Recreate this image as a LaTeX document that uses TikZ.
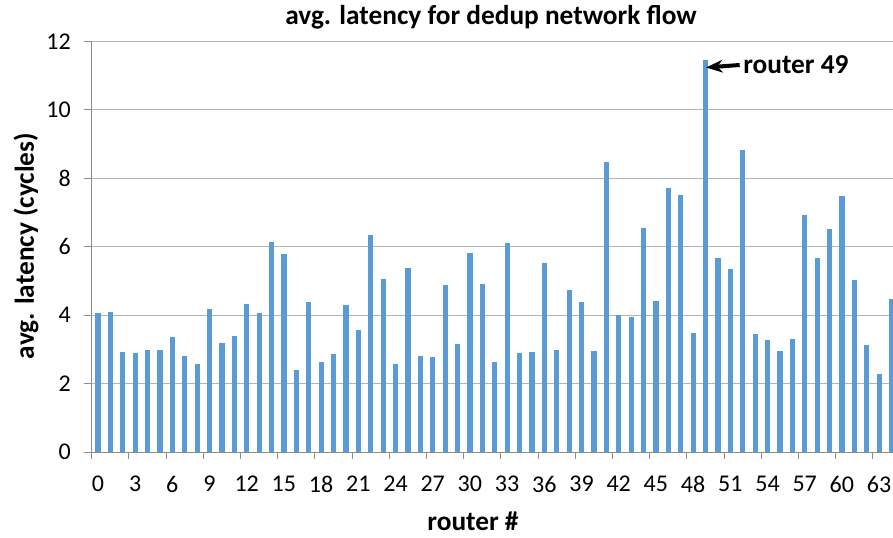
\documentclass[tikz,border=0pt]{standalone}
\usepackage{fontspec}
\setmainfont{Carlito}
\usetikzlibrary{arrows.meta}
\definecolor{barblue}{HTML}{5B9BD5}
\definecolor{gridgray}{HTML}{B4B4B4}
\definecolor{axisgray}{HTML}{8C8C8C}
\begin{document}
\begin{tikzpicture}[>=Stealth, x=0.75pt, y=0.75pt]
        \tikzset{bar/.style={fill=barblue, draw=none},
                 gridline/.style={draw=gridgray, line width=0.8pt},
                 axisline/.style={draw=axisgray, line width=0.8pt},
                 ticklbl/.style={inner sep=0pt, font=\fontsize{18}{20}\selectfont},
                 boldlbl/.style={inner sep=0pt, font=\fontsize{20.5}{22}\selectfont\bfseries}}
        \useasboundingbox (0,0) rectangle (893,538);
        \clip (0,0) rectangle (893,538);

        % grid and axes
        \foreach \g in {2,4,...,12}
            \draw[gridline] (91.7,{85.7+34.25*\g}) -- (893,{85.7+34.25*\g});
        \foreach \g in {0,2,...,12} {
            \draw[axisline] (83.5,{85.7+34.25*\g}) -- (91.7,{85.7+34.25*\g});
            \node[ticklbl, anchor=east] (y\g) at (71,{85.7+34.25*\g}) {\g};
        }
        \draw[axisline] (91.7,85.7) -- (91.7,{85.7+34.25*12});
        \draw[axisline] (91.7,85.7) -- (893,85.7);
        \foreach \j in {0,...,21}
            \draw[axisline] ({91.7+37.2*\j},85.7) -- ({91.7+37.2*\j},78.5);
        \foreach \k in {0,3,...,63}
            \node[ticklbl] (x\k) at ({91.7+12.4*(\k+0.5)},54) {\k};

        % bars
        \foreach \v [count=\i from 0] in {4.07,4.09,2.93,2.89,3.00,3.00,3.38,2.80,2.58,4.17,
                3.19,3.39,4.34,4.07,6.13,5.80,2.41,4.40,2.63,2.86,4.29,3.56,6.33,5.07,2.57,
                5.37,2.80,2.79,4.87,3.17,5.81,4.90,2.63,6.10,2.89,2.94,5.53,2.98,4.75,4.40,
                2.97,8.48,4.02,3.94,6.55,4.41,7.72,7.51,3.47,11.45,5.66,5.34,8.84,3.46,3.29,
                2.95,3.30,6.93,5.66,6.53,7.48,5.04,3.12,2.28,4.48}
            \fill[bar] ({91.7+12.4*(\i+0.5)-2.6},85.7) rectangle ++(5.2,{34.25*\v});

        % labels
        \node[boldlbl] (title) at (491,521) {avg. latency for dedup network flow};
        \node[boldlbl, rotate=90] (ylab) at (26,292) {avg. latency (cycles)};
        \node[boldlbl] (xlab) at (473,17) {router \#};
        \node[boldlbl, anchor=west] (callout) at (743,473) {router 49};
        \coordinate (peak) at (706,470.5);
        \draw[line width=3pt, {Stealth[length=12.5pt, width=9.5pt]}-] (peak) -- ([xshift=-2.5pt]callout.west);
    \end{tikzpicture}
\end{document}
